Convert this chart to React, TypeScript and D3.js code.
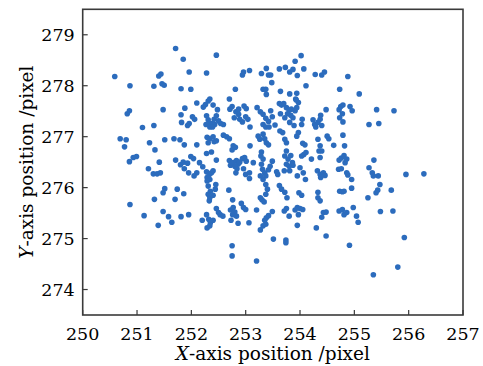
import React from 'react'
import * as d3 from 'd3'

// point positions, grouped by vertical band
const topBand: [number, number][] = [
  [251.71, 278.73], [252.46, 278.6], [251.85, 278.52], [254.02, 278.59], [253.91, 278.48],
  [250.59, 278.18], [250.87, 278.0], [251.4, 278.19], [251.44, 278.23], [251.46, 278.04],
  [251.5, 278.01], [251.31, 277.99], [251.81, 277.94], [251.96, 278.27], [251.99, 277.93],
  [252.28, 278.25], [252.94, 278.21], [252.96, 278.27], [253.07, 278.3], [253.29, 278.24],
  [253.38, 278.34], [253.42, 278.21], [253.46, 278.21], [253.62, 278.33], [253.73, 278.36],
  [253.81, 278.27], [253.87, 278.32], [253.95, 278.2], [254.07, 278.33], [254.28, 278.22],
  [254.4, 278.21], [254.45, 278.27], [254.88, 278.18], [254.11, 278.0], [253.32, 277.93],
  [253.37, 277.93], [253.38, 277.83], [253.48, 278.06], [252.81, 277.93], [253.64, 277.89],
  [253.81, 277.84], [253.94, 277.85], [253.92, 277.74], [254.73, 277.93], [255.09, 277.84],
]

const upperBand: [number, number][] = [
  [250.82, 277.45], [250.86, 277.51], [251.1, 277.18], [251.31, 277.22], [251.48, 277.53],
  [251.88, 277.56], [251.81, 277.43], [251.82, 277.28], [251.93, 277.22], [251.96, 277.26],
  [252.02, 277.39], [252.06, 277.34], [252.1, 277.66], [252.22, 277.58], [252.26, 277.63],
  [252.31, 277.7], [252.34, 277.74], [252.4, 277.62], [252.48, 277.53], [252.28, 277.41],
  [252.31, 277.33], [252.34, 277.26], [252.27, 277.24], [252.38, 277.26], [252.43, 277.24],
  [252.34, 277.19], [252.39, 277.19], [252.42, 277.34], [252.46, 277.41], [252.5, 277.31],
  [252.54, 277.26], [252.59, 277.24], [252.7, 277.74], [252.71, 277.54], [252.75, 277.59],
  [252.82, 277.49], [252.87, 277.54], [252.87, 277.44], [252.79, 277.37], [252.89, 277.34],
  [252.94, 277.29], [252.97, 277.6], [253.01, 277.55], [253.0, 277.39], [253.04, 277.34],
  [253.08, 277.19], [253.21, 277.57], [253.27, 277.49], [253.32, 277.44], [253.37, 277.36],
  [253.32, 277.24], [253.37, 277.19], [253.43, 277.19], [253.46, 277.51], [253.49, 277.39],
  [253.42, 277.3], [253.54, 277.23], [253.62, 277.65], [253.66, 277.62], [253.7, 277.65],
  [253.64, 277.45], [253.75, 277.57], [253.8, 277.52], [253.84, 277.54], [253.77, 277.45],
  [253.83, 277.42], [253.87, 277.37], [253.91, 277.51], [253.94, 277.57], [253.72, 277.37],
  [253.97, 277.67], [253.93, 277.72], [253.81, 277.28], [253.89, 277.22], [254.03, 277.24],
  [254.04, 277.34], [254.24, 277.33], [254.27, 277.24], [254.29, 277.19], [254.33, 277.28],
  [254.37, 277.34], [254.38, 277.42], [254.4, 277.22], [254.48, 277.53], [254.72, 277.53],
  [254.75, 277.59], [254.79, 277.62], [254.78, 277.45], [254.73, 277.37], [254.79, 277.29],
  [254.92, 277.59], [254.96, 277.51], [255.27, 277.24], [255.41, 277.53], [255.45, 277.26],
  [255.73, 277.51],
]

const middleBand: [number, number][] = [
  [250.69, 276.96], [250.8, 276.94], [250.77, 276.8], [250.86, 276.51], [250.93, 276.59],
  [250.99, 276.61], [251.23, 276.88], [251.33, 276.74], [251.21, 276.37], [251.3, 276.27],
  [251.37, 276.27], [251.43, 276.29], [251.41, 276.5], [251.51, 276.94], [251.68, 276.96],
  [251.79, 276.94], [251.87, 276.84], [251.71, 276.54], [251.8, 276.45], [251.85, 276.5],
  [251.93, 276.48], [251.87, 276.37], [251.95, 276.29], [251.99, 276.61], [252.04, 276.57],
  [252.1, 276.84], [252.1, 276.29], [252.05, 276.23], [252.15, 276.49], [252.21, 276.41],
  [252.29, 276.99], [252.34, 276.96], [252.4, 277.0], [252.31, 276.88], [252.42, 276.9],
  [252.46, 276.92], [252.28, 276.67], [252.37, 276.7], [252.46, 276.54], [252.28, 276.31],
  [252.33, 276.26], [252.37, 276.29], [252.4, 276.33], [252.29, 276.2], [252.34, 276.16],
  [252.59, 277.03], [252.65, 277.0], [252.7, 276.96], [252.77, 276.82], [252.75, 276.74],
  [252.81, 276.79], [252.7, 276.53], [252.72, 276.44], [252.77, 276.49], [252.83, 276.53],
  [252.86, 276.46], [252.89, 276.5], [252.8, 276.42], [252.84, 276.37], [252.82, 276.29],
  [252.94, 276.57], [252.98, 276.59], [253.01, 276.52], [252.96, 276.37], [253.0, 276.26],
  [253.08, 276.82], [253.07, 276.29], [253.07, 276.18], [253.14, 276.49], [253.23, 277.01],
  [253.26, 276.95], [253.32, 277.05], [253.35, 276.96], [253.38, 276.88], [253.42, 276.84],
  [253.29, 276.7], [253.28, 276.62], [253.32, 276.56], [253.29, 276.46], [253.31, 276.36],
  [253.35, 276.29], [253.42, 276.35], [253.37, 276.23], [253.32, 276.16], [253.27, 276.23],
  [253.45, 276.42], [253.49, 276.52], [253.57, 276.31], [253.59, 276.26], [253.68, 277.08],
  [253.63, 277.11], [253.72, 276.95], [253.75, 276.88], [253.75, 276.72], [253.72, 276.62],
  [253.78, 276.56], [253.83, 276.63], [253.86, 276.49], [253.87, 276.44], [253.8, 276.42],
  [253.75, 276.46], [253.71, 276.33], [253.81, 276.33], [253.94, 277.01], [253.97, 277.08],
  [254.05, 276.87], [254.09, 276.84], [254.03, 276.62], [254.07, 276.65], [254.11, 276.69],
  [254.0, 276.39], [253.95, 276.23], [254.06, 276.29], [254.1, 276.16], [254.21, 276.56],
  [254.33, 276.95], [254.37, 276.82], [254.35, 276.72], [254.4, 276.72], [254.37, 276.59],
  [254.32, 276.33], [254.37, 276.26], [254.43, 276.29], [254.46, 276.24], [254.38, 276.2],
  [254.62, 276.83], [254.5, 277.01], [254.53, 276.96], [254.72, 276.54], [254.76, 276.58],
  [254.81, 276.63], [254.83, 276.49], [254.86, 276.56], [254.79, 277.03], [254.82, 276.82],
  [254.71, 276.36], [254.76, 276.37], [254.86, 276.29], [254.88, 276.25], [254.95, 276.16],
  [255.27, 276.39], [255.33, 276.29], [255.35, 276.23], [255.44, 276.23], [255.36, 276.54],
]

const lowerBand: [number, number][] = [
  [250.87, 275.67], [251.13, 275.45], [251.32, 275.77], [251.39, 275.26], [251.48, 275.9],
  [251.51, 275.98], [251.48, 275.53], [251.58, 275.43], [251.64, 275.32], [251.7, 275.77],
  [251.74, 275.97], [251.81, 275.43], [251.86, 275.88], [251.95, 275.47], [252.2, 275.36],
  [252.29, 276.13], [252.31, 276.03], [252.35, 275.93], [252.31, 275.87], [252.34, 275.8],
  [252.33, 275.74], [252.4, 275.85], [252.44, 275.97], [252.45, 276.06], [252.28, 275.47],
  [252.32, 275.38], [252.35, 275.31], [252.4, 275.36], [252.29, 275.21], [252.34, 275.25],
  [252.46, 275.59], [252.5, 275.51], [252.53, 275.47], [252.58, 275.44], [252.69, 275.95],
  [252.76, 275.76], [252.72, 275.56], [252.77, 275.61], [252.8, 275.52], [252.76, 275.47],
  [252.83, 275.44], [252.73, 275.36], [252.86, 275.3], [252.92, 275.69], [252.96, 275.61],
  [253.0, 275.57], [253.06, 275.31], [253.2, 275.56], [253.27, 275.8], [253.3, 275.76],
  [253.34, 275.72], [253.37, 275.87], [253.4, 275.97], [253.37, 276.06], [253.27, 275.17],
  [253.32, 275.25], [253.37, 275.28], [253.35, 275.36], [253.38, 275.41], [253.42, 275.45],
  [253.49, 275.53], [253.62, 276.04], [253.66, 275.97], [253.72, 275.91], [253.76, 275.8],
  [253.71, 275.54], [253.75, 275.59], [253.8, 275.44], [253.91, 275.56], [253.95, 275.61],
  [254.0, 275.59], [254.05, 275.57], [253.97, 275.47], [253.95, 275.26], [253.98, 275.9],
  [254.03, 275.85], [254.3, 275.21], [254.33, 275.8], [254.37, 275.74], [254.33, 275.91],
  [254.4, 275.42], [254.43, 275.51], [254.48, 275.52], [254.73, 275.93], [254.78, 275.92],
  [254.81, 275.93], [254.72, 275.54], [254.78, 275.57], [254.81, 275.47], [254.86, 275.51],
  [254.95, 275.99], [254.98, 275.61], [255.04, 275.44], [255.07, 275.32], [255.25, 275.8],
  [255.4, 275.9], [255.43, 275.95], [255.47, 276.06], [255.48, 275.53], [255.68, 275.95],
  [255.71, 275.54],
]

const outliers: [number, number][] = [
  [252.75, 274.86], [252.75, 274.66], [253.2, 274.56], [253.51, 274.99], [253.74, 274.97],
  [253.74, 274.92], [254.48, 275.05], [254.91, 274.87], [255.35, 274.29], [255.8, 274.44],
  [255.92, 275.02], [255.95, 276.26], [256.28, 276.27],
]

const xTicks = [250, 251, 252, 253, 254, 255, 256, 257]
const yTicks = [274, 275, 276, 277, 278, 279]

const W = 483
const H = 366
const margin = { left: 82.7, right: 20, top: 9.3, bottom: 51 }
const FONT = '"DejaVu Serif", "Liberation Serif", serif'
const DOT = '#2c6cbd'
const FRAME = '#3a3a3a'

export default function App() {
  const x = d3.scaleLinear().domain([250, 257]).range([margin.left, W - margin.right])
  const y = d3.scaleLinear().domain([273.5, 279.5]).range([H - margin.bottom, margin.top])
  const points = [...topBand, ...upperBand, ...middleBand, ...lowerBand, ...outliers]
  const x0 = x.range()[0], x1 = x.range()[1]
  const y0 = y.range()[0], y1 = y.range()[1]

  return (
    <svg width={W} height={H} style={{ position: 'absolute', left: 0, top: 0, background: '#fff' }}
      fontFamily={FONT}>
      <g fill={DOT}>
        {points.map((p, i) => (
          <circle key={i} cx={x(p[0])} cy={y(p[1])} r={2.8} />
        ))}
      </g>

      {/* ticks point inward */}
      <g stroke={FRAME} strokeWidth={1.2}>
        {xTicks.map(t => (
          <line key={'xt' + t} x1={x(t)} x2={x(t)} y1={y0} y2={y0 - 5} />
        ))}
        {yTicks.map(t => (
          <line key={'yt' + t} x1={x0} x2={x0 + 5} y1={y(t)} y2={y(t)} />
        ))}
      </g>
      <rect x={x0} y={y1} width={x1 - x0} height={y0 - y1} fill="none" stroke={FRAME} strokeWidth={1.6} />

      <g fontSize={17.5} fill="#000">
        {xTicks.map(t => (
          <text key={'xl' + t} x={x(t)} y={y0 + 25} textAnchor="middle">{t}</text>
        ))}
        {yTicks.map(t => (
          <text key={'yl' + t} x={x0 - 8} y={y(t)} dy="0.36em" textAnchor="end">{t}</text>
        ))}
      </g>

      <text x={(x0 + x1) / 2} y={360} textAnchor="middle" fontSize={18.5} fill="#000">
        <tspan fontStyle="italic">X</tspan>-axis position /pixel
      </text>
      <text transform={`translate(33,${(y0 + y1) / 2}) rotate(-90)`} textAnchor="middle" fontSize={18.5} fill="#000">
        <tspan fontStyle="italic">Y</tspan>-axis position /pixel
      </text>
    </svg>
  )
}
